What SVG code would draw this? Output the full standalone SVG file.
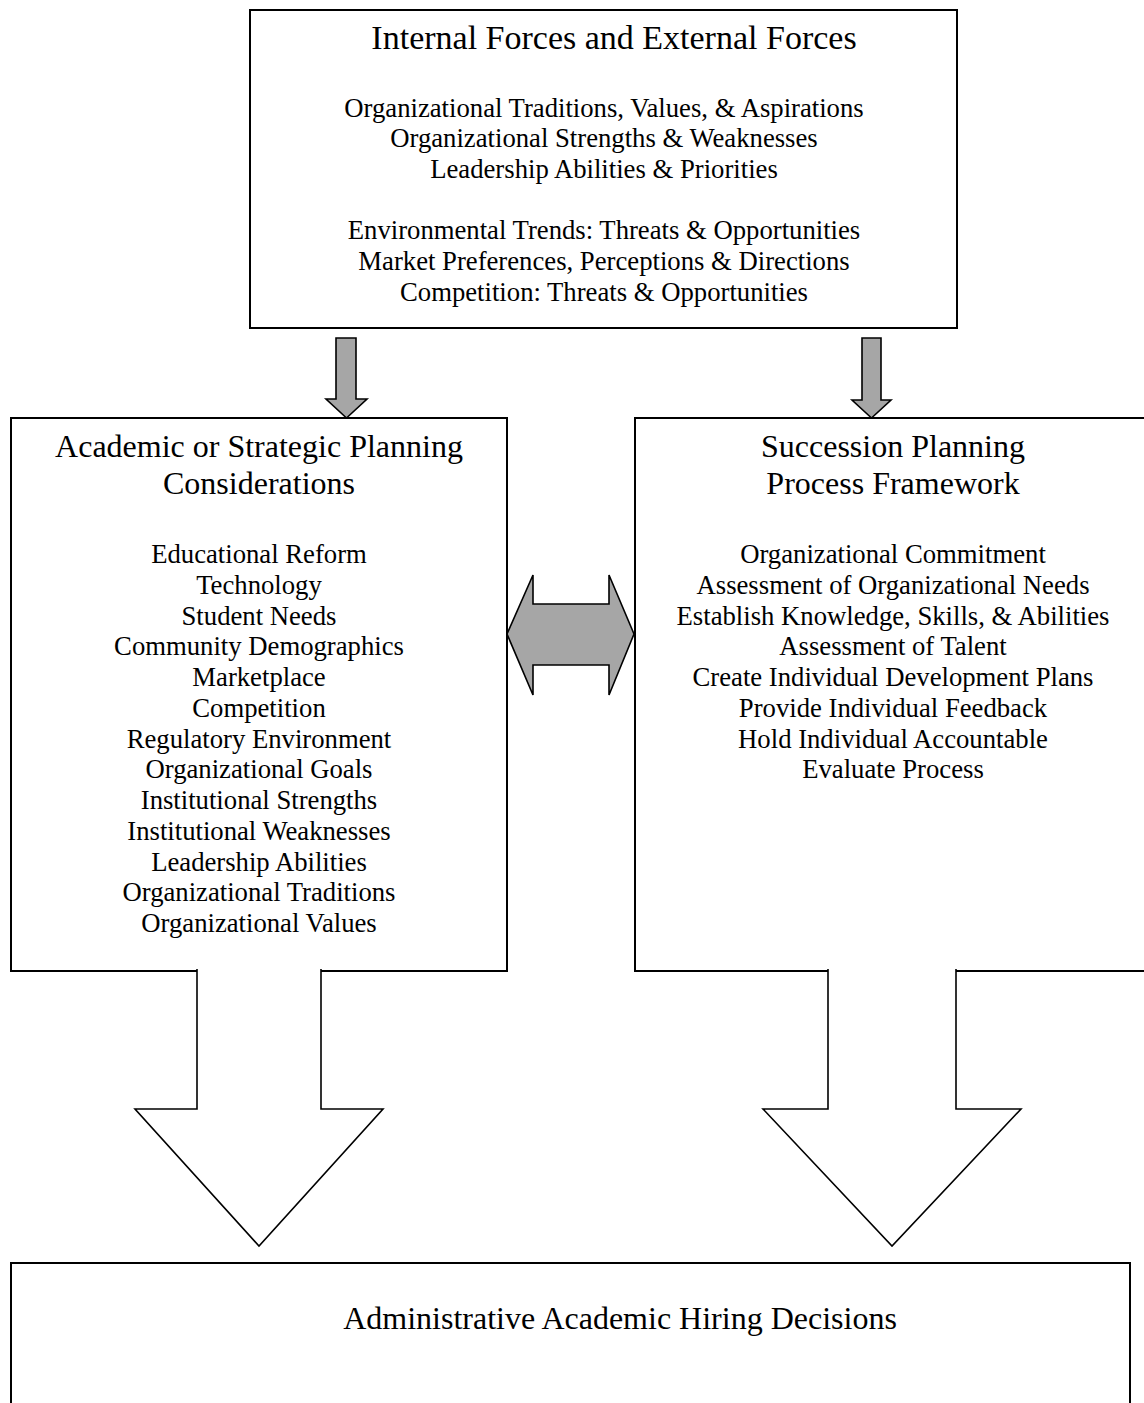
<svg xmlns="http://www.w3.org/2000/svg" width="1144" height="1403" viewBox="0 0 1144 1403">
<style>
.box{fill:#fff;stroke:#000;stroke-width:2}
.t{font-family:"Liberation Serif","Times New Roman",serif;fill:#000;text-anchor:middle}
.h{font-size:32px}
.hl{font-size:34px}
.b{font-size:26.7px}
.g{fill:#a6a6a6;stroke:#000;stroke-width:1.6;stroke-linejoin:miter}
.w{fill:#fff;stroke:#000;stroke-width:1.6;stroke-linejoin:miter}
</style>
<rect width="1144" height="1403" fill="#fff"/>
<g id="forces">
<rect class="box" x="250" y="10" width="707" height="318"/>
<text class="t hl" x="614" y="49">Internal Forces and External Forces</text>
<text class="t b" x="604" y="117">Organizational Traditions, Values, &amp; Aspirations</text>
<text class="t b" x="604" y="147">Organizational Strengths &amp; Weaknesses</text>
<text class="t b" x="604" y="178">Leadership Abilities &amp; Priorities</text>
<text class="t b" x="604" y="239">Environmental Trends: Threats &amp; Opportunities</text>
<text class="t b" x="604" y="270">Market Preferences, Perceptions &amp; Directions</text>
<text class="t b" x="604" y="301">Competition: Threats &amp; Opportunities</text>
</g>
<g id="planning">
<rect class="box" x="11" y="418" width="496" height="553"/>
<text class="t h" x="259" y="457">Academic or Strategic Planning</text>
<text class="t h" x="259" y="494">Considerations</text>
<text class="t b" x="259" y="563">Educational Reform</text>
<text class="t b" x="259" y="594">Technology</text>
<text class="t b" x="259" y="624.5">Student Needs</text>
<text class="t b" x="259" y="655">Community Demographics</text>
<text class="t b" x="259" y="686">Marketplace</text>
<text class="t b" x="259" y="717">Competition</text>
<text class="t b" x="259" y="747.5">Regulatory Environment</text>
<text class="t b" x="259" y="778">Organizational Goals</text>
<text class="t b" x="259" y="809">Institutional Strengths</text>
<text class="t b" x="259" y="840">Institutional Weaknesses</text>
<text class="t b" x="259" y="870.5">Leadership Abilities</text>
<text class="t b" x="259" y="901">Organizational Traditions</text>
<text class="t b" x="259" y="932">Organizational Values</text>
</g>
<g id="succession">
<rect class="box" x="635" y="418" width="520" height="553"/>
<text class="t h" x="893" y="457">Succession Planning</text>
<text class="t h" x="893" y="494">Process Framework</text>
<text class="t b" x="893" y="563">Organizational Commitment</text>
<text class="t b" x="893" y="594">Assessment of Organizational Needs</text>
<text class="t b" x="893" y="624.5">Establish Knowledge, Skills, &amp; Abilities</text>
<text class="t b" x="893" y="655">Assessment of Talent</text>
<text class="t b" x="893" y="686">Create Individual Development Plans</text>
<text class="t b" x="893" y="717">Provide Individual Feedback</text>
<text class="t b" x="893" y="747.5">Hold Individual Accountable</text>
<text class="t b" x="893" y="778">Evaluate Process</text>
</g>
<g id="hiring">
<rect class="box" x="11" y="1263" width="1119" height="160"/>
<text class="t h" x="620" y="1329">Administrative Academic Hiring Decisions</text>
</g>
<g id="connectors">
<path class="g" d="M336,338 H356 V399 H367 L346.5,418 L326,399 H336 Z"/>
<path class="g" d="M862,338 H881 V400 H891 L871.5,418 L852,400 H862 Z"/>
<path class="g" d="M507,634 L533,575 V604 H609 V575 L634,634 L609,695 V665 H533 V695 Z"/>
<path class="w" d="M197,969 V1109 H135 L259,1246 L383,1109 H321 V969"/>
<path class="w" d="M828,969 V1109 H763 L892,1246 L1021,1109 H956 V969"/>
</g>
</svg>
